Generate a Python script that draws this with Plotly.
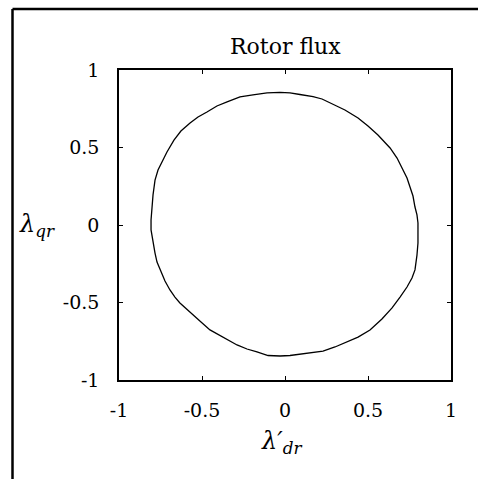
import plotly.graph_objects as go

# Rotor flux trajectory in the d-q plane (one closed loop, clockwise from the top)
lambda_dr = [
    -0.030, 0.030, 0.090, 0.169, 0.223, 0.271, 0.361, 0.440, 0.500, 0.560,
    0.602, 0.633, 0.675, 0.711, 0.735, 0.753, 0.771, 0.783, 0.795, 0.801,
    0.801, 0.801, 0.795, 0.783, 0.765, 0.735, 0.693, 0.645, 0.584, 0.512,
    0.440, 0.373, 0.301, 0.229, 0.151, 0.090, 0.030, -0.030,
    -0.102, -0.169, -0.229, -0.289, -0.367, -0.452, -0.506, -0.554, -0.596, -0.633,
    -0.663, -0.693, -0.723, -0.753, -0.771, -0.783, -0.795, -0.807,
    -0.807, -0.801, -0.795, -0.783, -0.765, -0.735, -0.711, -0.669, -0.627, -0.572,
    -0.524, -0.470, -0.410, -0.349, -0.271, -0.193, -0.108, -0.030,
]
lambda_qr = [
    0.855, 0.852, 0.842, 0.828, 0.813, 0.789, 0.742, 0.690, 0.639, 0.581,
    0.535, 0.497, 0.432, 0.355, 0.303, 0.245, 0.187, 0.116, 0.065, 0.013,
    -0.077, -0.116, -0.194, -0.290, -0.342, -0.400, -0.465, -0.535, -0.606, -0.677,
    -0.723, -0.755, -0.787, -0.813, -0.826, -0.832, -0.842, -0.845,
    -0.842, -0.819, -0.800, -0.774, -0.729, -0.677, -0.626, -0.581, -0.542, -0.503,
    -0.465, -0.419, -0.361, -0.290, -0.239, -0.181, -0.110, -0.032,
    0.032, 0.116, 0.194, 0.290, 0.355, 0.419, 0.471, 0.548, 0.606, 0.658,
    0.697, 0.729, 0.768, 0.794, 0.826, 0.839, 0.852, 0.855,
]

tick_vals = [-1, -0.5, 0, 0.5, 1]
tick_text = ["-1", "-0.5", "0", "0.5", "1"]

W, H = 478, 479
L, R, T, B = 119, 27, 70, 99
pw, ph = W - L - R, H - T - B


def px(x):
    return (x - L) / pw


def py(y):
    return (H - B - y) / ph


serif = "DejaVu Serif"

fig = go.Figure()
fig.add_trace(go.Scatter(x=lambda_dr, y=lambda_qr, mode="lines",
                         line=dict(color="black", width=1.3),
                         showlegend=False, hoverinfo="skip"))

axis_common = dict(
    tickvals=tick_vals, ticktext=tick_text, ticks="inside", ticklen=4,
    tickwidth=1, tickcolor="black", showline=True, linecolor="black",
    linewidth=1.5, mirror="ticks", showgrid=False, zeroline=False,
    tickfont=dict(family=serif, size=19, color="black"),
)

fig.update_xaxes(range=[-1, 1], ticklabelstandoff=12, **axis_common)
fig.update_yaxes(range=[-1, 1], ticklabelstandoff=14, **axis_common)

fig.update_layout(
    width=W, height=H,
    margin=dict(l=L, r=R, t=T, b=B),
    paper_bgcolor="white", plot_bgcolor="white",
    font=dict(family=serif, color="black"),
    shapes=[
        dict(type="line", xref="paper", yref="paper",
             x0=px(12.5), x1=px(480), y0=py(9), y1=py(9),
             line=dict(color="black", width=2.5)),
        dict(type="line", xref="paper", yref="paper",
             x0=px(12.5), x1=px(12.5), y0=py(9), y1=py(482),
             line=dict(color="black", width=2.5)),
    ],
    annotations=[
        dict(text="Rotor flux", xref="paper", yref="paper",
             x=px(285), y=py(47), xanchor="center", yanchor="middle",
             showarrow=False, font=dict(family=serif, size=22, color="black")),
        dict(text="<i>λ</i><sub><i>qr</i></sub>", xref="paper", yref="paper",
             x=px(37), y=py(225), xanchor="center", yanchor="middle",
             showarrow=False, font=dict(family=serif, size=24, color="black")),
        dict(text="<i>λ′</i><sub><i>dr</i></sub>", xref="paper", yref="paper",
             x=px(281), y=py(442), xanchor="center", yanchor="middle",
             showarrow=False, font=dict(family=serif, size=24, color="black")),
    ],
)

fig.write_html("out.html")
